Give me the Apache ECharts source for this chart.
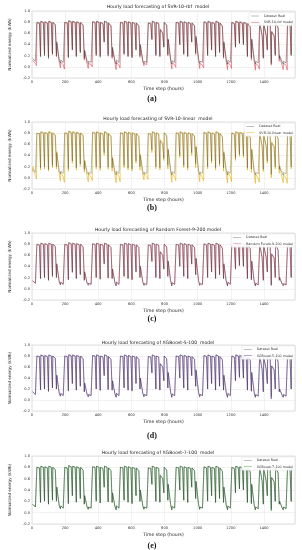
<!DOCTYPE html>
<html><head><meta charset="utf-8">
<script src="https://cdn.jsdelivr.net/npm/echarts@6/dist/echarts.min.js"></script>
<style>html,body{margin:0;padding:0;background:#fff}#c{width:302px;height:550px}</style>
</head><body><div id="c"></div>
<script>
// ---------------- DATA ----------------
const xTicks = [0, 200, 400, 600, 800, 1000, 1200, 1400];
const yTicks = [-0.2, 0.0, 0.2, 0.4, 0.6, 0.8, 1.0];
// hour of the day at which each daily reading is taken (night dip, morning plateau, evening)
const sampleHours = [4, 6, 21];

// Dataset Real: one value per day (rows = weeks, Sun..Sat)
const realNight = [
 0.15,0.08,0.18,0.20,0.15,0.22,0.20,
 0.07,0.06,0.16,0.30,0.18,0.25,0.15,
 0.06,0.07,0.20,0.17,0.45,0.19,0.18,
 0.05,0.06,0.22,0.18,0.16,0.30,0.20,
 0.06,0.07,0.50,0.20,0.18,0.35,0.22,
 0.05,0.08,0.40,0.22,0.18,0.45,0.25,
 0.06,0.07,0.20,0.30,0.18,0.25,0.18,
 0.05,0.06,0.35,0.42,0.40,0.18,0.16,
 0.05,0.05,0.15,0.30,0.06,0.20,0.15,
 0.05,0.05,0.20];
const realPeak = [
 0.18,0.80,0.82,0.81,0.82,0.80,0.45,
 0.12,0.80,0.83,0.82,0.81,0.80,0.30,
 0.10,0.81,0.82,0.80,0.82,0.79,0.35,
 0.12,0.80,0.82,0.81,0.80,0.79,0.40,
 0.10,0.79,0.82,0.80,0.66,0.80,0.50,
 0.11,0.80,0.82,0.81,0.80,0.79,0.55,
 0.10,0.81,0.82,0.80,0.82,0.79,0.45,
 0.12,0.80,0.82,0.81,0.80,0.78,0.50,
 0.10,0.80,0.78,0.80,0.62,0.80,0.20,
 0.10,0.80,0.79];
const realLate = [
 0.10,0.79,0.80,0.79,0.80,0.76,0.12,
 0.08,0.79,0.81,0.80,0.79,0.75,0.10,
 0.08,0.80,0.80,0.78,0.80,0.74,0.11,
 0.08,0.79,0.80,0.79,0.78,0.74,0.12,
 0.08,0.78,0.80,0.78,0.60,0.75,0.14,
 0.08,0.79,0.80,0.79,0.78,0.74,0.15,
 0.08,0.79,0.80,0.78,0.80,0.73,0.12,
 0.08,0.78,0.80,0.79,0.78,0.72,0.13,
 0.07,0.55,0.56,0.78,0.55,0.70,0.09,
 0.07,0.78,0.78];

// SVR-10-rbf
const rbfNight = [
 0.12,0.02,0.20,0.22,0.18,0.24,0.18,
 -0.02,-0.04,0.18,0.31,0.20,0.27,0.12,
 -0.03,0.00,0.22,0.20,0.44,0.22,0.15,
 -0.05,-0.02,0.24,0.20,0.18,0.31,0.17,
 0.02,0.03,0.48,0.22,0.20,0.36,0.20,
 -0.04,-0.01,0.40,0.24,0.20,0.44,0.22,
 -0.03,-0.02,0.22,0.31,0.20,0.27,0.15,
 -0.05,-0.03,0.36,0.42,0.40,0.20,0.12,
 -0.06,-0.04,0.17,0.31,0.03,0.22,0.10,
 -0.05,-0.06,0.22];
const rbfPeak = [
 0.15,0.78,0.81,0.80,0.81,0.79,0.42,
 0.08,0.79,0.82,0.81,0.80,0.79,0.28,
 0.06,0.80,0.81,0.79,0.81,0.78,0.33,
 0.08,0.79,0.81,0.80,0.79,0.78,0.38,
 0.06,0.78,0.81,0.79,0.68,0.79,0.48,
 0.07,0.79,0.81,0.80,0.79,0.78,0.52,
 0.06,0.80,0.81,0.79,0.81,0.78,0.43,
 0.08,0.79,0.81,0.80,0.79,0.77,0.48,
 0.06,0.79,0.77,0.79,0.64,0.79,0.18,
 0.06,0.79,0.78];
const rbfLate = [
 0.06,0.78,0.79,0.78,0.79,0.75,0.08,
 0.04,0.78,0.80,0.79,0.78,0.74,0.05,
 0.04,0.79,0.79,0.77,0.79,0.73,0.07,
 0.03,0.78,0.79,0.78,0.77,0.73,0.08,
 0.04,0.77,0.79,0.77,0.61,0.74,0.10,
 0.04,0.78,0.79,0.78,0.77,0.73,0.11,
 0.03,0.78,0.79,0.77,0.79,0.72,0.08,
 0.03,0.77,0.79,0.78,0.77,0.71,0.09,
 0.02,0.56,0.57,0.77,0.56,0.69,0.03,
 0.03,0.77,0.77];

// SVR-10-linear
const linNight = [
 0.10,-0.02,0.14,0.16,0.12,0.18,0.16,
 -0.06,-0.08,0.12,0.26,0.14,0.21,0.10,
 -0.07,-0.05,0.16,0.13,0.40,0.15,0.12,
 -0.09,-0.07,0.18,0.14,0.12,0.26,0.14,
 -0.04,-0.03,0.45,0.16,0.14,0.31,0.16,
 -0.08,-0.05,0.36,0.18,0.14,0.40,0.18,
 -0.07,-0.06,0.16,0.26,0.14,0.21,0.12,
 -0.09,-0.07,0.31,0.38,0.36,0.14,0.10,
 -0.10,-0.08,0.11,0.26,0.00,0.16,0.08,
 -0.09,-0.10,0.16];
const linPeak = [
 0.20,0.79,0.83,0.82,0.83,0.81,0.47,
 0.10,0.81,0.84,0.83,0.82,0.81,0.32,
 0.08,0.82,0.83,0.81,0.83,0.80,0.37,
 0.10,0.81,0.83,0.82,0.81,0.80,0.42,
 0.08,0.80,0.83,0.81,0.69,0.81,0.52,
 0.09,0.81,0.83,0.82,0.81,0.80,0.57,
 0.08,0.82,0.83,0.81,0.83,0.80,0.47,
 0.10,0.81,0.83,0.82,0.81,0.79,0.52,
 0.07,0.81,0.79,0.81,0.65,0.81,0.22,
 0.06,0.81,0.80];
const linLate = [
 0.04,0.80,0.81,0.80,0.81,0.77,0.05,
 0.02,0.80,0.82,0.81,0.80,0.76,0.02,
 0.01,0.81,0.81,0.79,0.81,0.75,0.03,
 0.02,0.80,0.81,0.80,0.79,0.75,0.04,
 0.02,0.79,0.81,0.79,0.62,0.76,0.08,
 0.01,0.80,0.81,0.80,0.79,0.75,0.09,
 0.00,0.80,0.81,0.79,0.81,0.74,0.05,
 0.01,0.79,0.81,0.80,0.79,0.73,0.06,
 -0.02,0.57,0.58,0.79,0.57,0.71,0.00,
 -0.01,0.79,0.79];

// Random Forest-9-200
const rfNight = [
 0.14,0.09,0.19,0.21,0.16,0.23,0.21,
 0.08,0.07,0.17,0.29,0.19,0.26,0.16,
 0.07,0.08,0.21,0.18,0.44,0.20,0.19,
 0.06,0.07,0.23,0.19,0.17,0.31,0.21,
 0.07,0.08,0.48,0.21,0.19,0.36,0.23,
 0.06,0.09,0.41,0.23,0.19,0.44,0.26,
 0.07,0.08,0.21,0.31,0.19,0.26,0.19,
 0.06,0.07,0.36,0.41,0.41,0.19,0.17,
 0.06,0.06,0.16,0.31,0.07,0.21,0.16,
 0.06,0.06,0.21];
const rfPeak = [
 0.17,0.79,0.81,0.81,0.81,0.80,0.44,
 0.12,0.79,0.82,0.81,0.81,0.80,0.31,
 0.10,0.80,0.81,0.80,0.81,0.79,0.36,
 0.12,0.79,0.81,0.81,0.80,0.79,0.41,
 0.10,0.78,0.81,0.80,0.67,0.80,0.49,
 0.11,0.79,0.81,0.81,0.80,0.79,0.54,
 0.10,0.80,0.81,0.80,0.81,0.79,0.44,
 0.12,0.79,0.81,0.81,0.80,0.78,0.49,
 0.10,0.79,0.78,0.80,0.63,0.80,0.21,
 0.10,0.79,0.79];
const rfLate = [
 0.10,0.78,0.80,0.79,0.80,0.76,0.12,
 0.08,0.78,0.80,0.80,0.79,0.75,0.10,
 0.08,0.79,0.80,0.78,0.80,0.74,0.11,
 0.08,0.78,0.80,0.79,0.78,0.74,0.12,
 0.08,0.77,0.80,0.78,0.61,0.75,0.14,
 0.08,0.78,0.80,0.79,0.78,0.74,0.15,
 0.08,0.78,0.80,0.78,0.80,0.73,0.12,
 0.08,0.77,0.80,0.79,0.78,0.72,0.13,
 0.07,0.56,0.57,0.78,0.56,0.70,0.09,
 0.07,0.77,0.78];

// XGBoost-5-100
const xg5Night = [
 0.15,0.08,0.19,0.20,0.16,0.22,0.20,
 0.07,0.06,0.17,0.30,0.18,0.25,0.15,
 0.06,0.07,0.20,0.18,0.44,0.19,0.18,
 0.05,0.06,0.22,0.18,0.17,0.30,0.20,
 0.06,0.07,0.49,0.20,0.18,0.35,0.22,
 0.05,0.08,0.40,0.22,0.18,0.44,0.25,
 0.06,0.07,0.20,0.30,0.18,0.25,0.18,
 0.05,0.06,0.35,0.41,0.40,0.18,0.16,
 0.05,0.05,0.15,0.30,0.02,0.20,0.15,
 0.05,0.05,0.20];
const xg5Peak = [
 0.18,0.80,0.82,0.81,0.82,0.80,0.45,
 0.12,0.80,0.82,0.82,0.81,0.80,0.31,
 0.10,0.81,0.82,0.80,0.82,0.79,0.35,
 0.12,0.80,0.82,0.81,0.80,0.79,0.40,
 0.10,0.79,0.82,0.80,0.66,0.80,0.50,
 0.11,0.80,0.82,0.81,0.80,0.79,0.54,
 0.10,0.81,0.82,0.80,0.82,0.79,0.45,
 0.12,0.80,0.82,0.81,0.80,0.78,0.50,
 0.10,0.80,0.78,0.80,0.62,0.80,0.20,
 0.10,0.80,0.79];
const xg5Late = [
 0.10,0.79,0.80,0.79,0.80,0.76,0.12,
 0.08,0.79,0.80,0.80,0.79,0.75,0.10,
 0.08,0.80,0.80,0.78,0.80,0.74,0.11,
 0.08,0.79,0.80,0.79,0.78,0.74,0.12,
 0.08,0.78,0.80,0.78,0.60,0.75,0.14,
 0.08,0.79,0.80,0.79,0.78,0.74,0.14,
 0.08,0.79,0.80,0.78,0.80,0.73,0.12,
 0.08,0.78,0.80,0.79,0.78,0.72,0.13,
 0.07,0.55,0.56,0.78,0.55,0.70,0.09,
 0.07,0.78,0.78];

// XGBoost-7-100
const xg7Night = [
 0.15,0.08,0.18,0.21,0.15,0.22,0.21,
 0.07,0.06,0.16,0.30,0.19,0.25,0.15,
 0.06,0.07,0.21,0.17,0.45,0.19,0.18,
 0.05,0.06,0.22,0.19,0.16,0.30,0.20,
 0.06,0.07,0.50,0.20,0.19,0.35,0.22,
 0.05,0.08,0.40,0.22,0.18,0.45,0.25,
 0.06,0.07,0.21,0.30,0.18,0.25,0.18,
 0.05,0.06,0.35,0.42,0.40,0.18,0.16,
 0.05,0.05,0.15,0.30,0.03,0.20,0.15,
 0.05,0.05,0.20];
const xg7Peak = [
 0.18,0.80,0.82,0.81,0.82,0.80,0.45,
 0.12,0.80,0.83,0.82,0.81,0.80,0.30,
 0.10,0.81,0.82,0.80,0.82,0.79,0.35,
 0.12,0.80,0.82,0.81,0.80,0.79,0.40,
 0.10,0.79,0.82,0.80,0.66,0.80,0.50,
 0.11,0.80,0.82,0.81,0.80,0.79,0.55,
 0.10,0.81,0.82,0.80,0.82,0.79,0.45,
 0.12,0.80,0.82,0.81,0.80,0.78,0.50,
 0.10,0.80,0.78,0.80,0.62,0.80,0.20,
 0.10,0.80,0.79];
const xg7Late = [
 0.10,0.79,0.80,0.79,0.80,0.76,0.12,
 0.08,0.79,0.81,0.80,0.79,0.75,0.10,
 0.08,0.80,0.80,0.78,0.80,0.74,0.11,
 0.08,0.79,0.80,0.79,0.78,0.74,0.12,
 0.08,0.78,0.80,0.78,0.60,0.75,0.14,
 0.08,0.79,0.80,0.79,0.78,0.74,0.15,
 0.08,0.79,0.80,0.78,0.80,0.73,0.12,
 0.08,0.78,0.80,0.79,0.78,0.72,0.13,
 0.07,0.55,0.56,0.78,0.55,0.70,0.09,
 0.07,0.78,0.78];

const panelTitles = [
  'Hourly load forecasting of SVR-10-rbf  model',
  'Hourly load forecasting of SVR-10-linear  model',
  'Hourly load forecasting of Random Forest-9-200 model',
  'Hourly load forecasting of XGBoost-5-100  model',
  'Hourly load forecasting of XGBoost-7-100  model'];
const modelNames = ['SVR-10-rbf model', 'SVR-10-linear model', 'Random Forest-9-200 model',
  'XGBoost-5-100 model', 'XGBoost-7-100 model'];
const captions = ['(a)', '(b)', '(c)', '(d)', '(e)'];
const realName = 'Dataset Real';
const xName = 'Time step (hours)';
const yName = 'Normalized energy (kWh)';
const xMax = 1587;

// ---------------- CHART ----------------
const preds = [
  [rbfNight, rbfPeak, rbfLate],
  [linNight, linPeak, linLate],
  [rfNight, rfPeak, rfLate],
  [xg5Night, xg5Peak, xg5Late],
  [xg7Night, xg7Peak, xg7Late]];

function build(night, peak, late) {
  const out = [];
  const cols = [night, peak, late];
  for (let d = 0; d < night.length; d++) {
    for (let k = 0; k < sampleHours.length; k++) {
      out.push([d * 24 + sampleHours[k], cols[k][d]]);
    }
  }
  return out;
}

const FONT = 'DejaVu Sans';
const layout = [
  {top: 11,  h: 67, title: 4.5,   leg: 12.5, cap: 99},
  {top: 122, h: 67, title: 116.5, leg: 123,  cap: 208},
  {top: 233, h: 67, title: 227.5, leg: 234,  cap: 319},
  {top: 345, h: 66, title: 340,   leg: 346,  cap: 436},
  {top: 456, h: 68, title: 450.5, leg: 457,  cap: 546}];
const predColors = ['#d8545e', '#e3b21a', '#f0668a', '#6b3f9c', '#3f9e45'];
const realOpacity = [0.85, 0.6, 0.85, 0.55, 0.75];
const LINE_ICON = 'path://M0,0L20,0L20,1.2L0,1.2Z';

const option = {
  animation: false,
  backgroundColor: '#ffffff',
  title: layout.map((p, i) => ({
    text: panelTitles[i], left: 158, top: p.title, textAlign: 'center', padding: 0,
    textStyle: {fontFamily: FONT, fontSize: 4.6, fontWeight: 'normal', color: '#222'}
  })),
  legend: layout.map((p, i) => ({
    data: [{name: realName, icon: LINE_ICON, itemStyle: {color: '#7a7a7a'}},
           {name: modelNames[i], icon: LINE_ICON, itemStyle: {color: predColors[i]}}],
    orient: 'vertical', right: 7, top: p.leg,
    itemWidth: 8, itemHeight: 0.7, itemGap: 3.2, padding: [2, 2, 2, 2],
    backgroundColor: 'rgba(255,255,255,0.9)', borderColor: '#dddddd', borderWidth: 0.5, borderRadius: 1,
    textStyle: {fontFamily: FONT, fontSize: 3.3, color: '#333'},
    selectedMode: false
  })),
  grid: layout.map(p => ({left: 26, right: 7, top: p.top, height: p.h, show: true,
    borderColor: '#cfcfcf', borderWidth: 0.6, backgroundColor: '#ffffff'})),
  xAxis: layout.map((p, i) => ({
    type: 'value', gridIndex: i, min: 0, max: xMax, interval: xTicks[1] - xTicks[0],
    name: xName, nameLocation: 'middle', nameGap: 8,
    nameTextStyle: {fontFamily: FONT, fontSize: 4.6, color: '#222'},
    axisLine: {show: false}, axisTick: {show: false},
    axisLabel: {fontFamily: FONT, fontSize: 3.6, color: '#333', margin: 2, showMaxLabel: false,
      formatter: v => (xTicks.indexOf(v) >= 0 ? String(v) : '')},
    splitLine: {show: true, lineStyle: {color: '#e4e4e4', width: 0.5}}
  })),
  yAxis: layout.map((p, i) => ({
    type: 'value', gridIndex: i, min: yTicks[0], max: yTicks[yTicks.length - 1],
    interval: 0.2,
    name: yName, nameLocation: 'middle', nameGap: 13, nameRotate: 90,
    nameTextStyle: {fontFamily: FONT, fontSize: 4.1, color: '#222'},
    axisLine: {show: false}, axisTick: {show: false},
    axisLabel: {fontFamily: FONT, fontSize: 3.6, color: '#333', margin: 2,
      showMinLabel: true, showMaxLabel: true,
      formatter: v => v.toFixed(1)},
    splitLine: {show: true, lineStyle: {color: '#e4e4e4', width: 0.5}}
  })),
  series: [],
  graphic: layout.map((p, i) => ({
    type: 'text', x: 152, y: p.cap,
    style: {text: captions[i], align: 'center', verticalAlign: 'middle',
      fontFamily: 'Liberation Serif', fontWeight: 'bold', fontSize: 8, fill: '#111'}
  }))
};

layout.forEach((p, i) => {
  option.series.push({
    type: 'line', name: modelNames[i], xAxisIndex: i, yAxisIndex: i,
    data: build(preds[i][0], preds[i][1], preds[i][2]),
    symbol: 'none', showSymbol: false, z: 2,
    lineStyle: {color: predColors[i], width: 0.7, opacity: 0.9}, itemStyle: {color: predColors[i]}
  });
  option.series.push({
    type: 'line', name: realName, xAxisIndex: i, yAxisIndex: i,
    data: build(realNight, realPeak, realLate),
    symbol: 'none', showSymbol: false, z: 3,
    lineStyle: {color: '#333333', width: 0.55, opacity: realOpacity[i]}, itemStyle: {color: '#7a7a7a'}
  });
});

const chart = echarts.init(document.getElementById('c'), null, {renderer: 'canvas'});
chart.setOption(option);
</script>
</body></html>
